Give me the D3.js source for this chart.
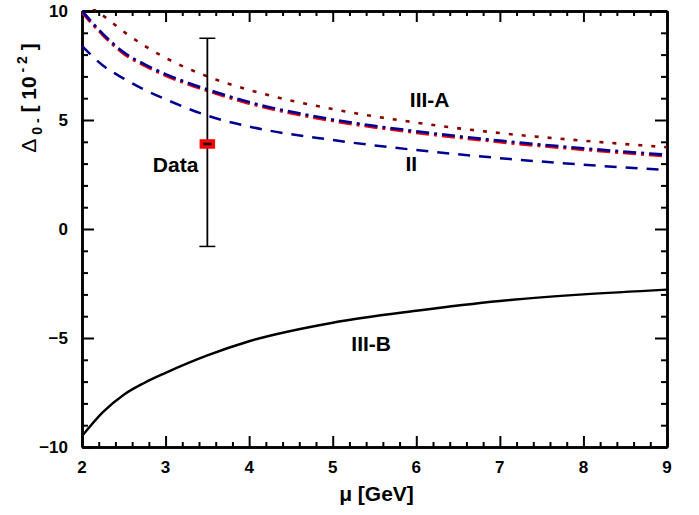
<!DOCTYPE html>
<html>
<head>
<meta charset="utf-8">
<script src="https://cdn.jsdelivr.net/npm/d3@7"></script>
<style>
html,body{margin:0;padding:0;background:#fff;}
svg text{font-family:"Liberation Sans",Arial,Helvetica,sans-serif;font-weight:bold;fill:#000;}
</style>
</head>
<body>
<svg id="chart" width="699" height="515"></svg>
<script>
// ---- data ----
const mu = [2, 2.25, 2.5, 2.75, 3, 3.5, 4, 5, 6, 7, 8, 9];
const seriesIIIA_dotted = [10.5, 9.8, 9.05, 8.4, 7.85, 7.0, 6.38, 5.5, 4.88, 4.4, 4.05, 3.75];
const seriesBlueDashDot = [10.0, 8.95, 8.1, 7.55, 7.1, 6.4, 5.82, 5.02, 4.48, 4.05, 3.7, 3.4];
const seriesRedDashDot  = [9.95, 8.89, 8.04, 7.49, 7.04, 6.34, 5.76, 4.96, 4.42, 3.99, 3.64, 3.34];
const seriesII_dashed   = [8.4, 7.5, 6.9, 6.38, 5.95, 5.2, 4.7, 4.08, 3.62, 3.25, 2.95, 2.7];
const seriesIIIB_solid  = [-9.5, -8.4, -7.6, -7.05, -6.6, -5.8, -5.15, -4.3, -3.75, -3.3, -3.0, -2.78];
const dataX = [3.5];
const dataY = [3.9];
const dataLow = [-0.8];
const dataHigh = [8.75];
const xTicks = [2, 3, 4, 5, 6, 7, 8, 9];
const yTicks = [-10, -5, 0, 5, 10];
const labels = [
  {text: "III-A", x: 6.16, y: 5.6},
  {text: "II",    x: 5.94, y: 2.66},
  {text: "III-B", x: 5.46, y: -5.6},
  {text: "Data",  x: 3.12, y: 2.61}
];

// ---- layout ----
const svg = d3.select("#chart");
const L = 82, R = 667, T = 11, B = 447;
const x = d3.scaleLinear().domain([2, 9]).range([L, R]);
const y = d3.scaleLinear().domain([-10, 10]).range([B, T]);

// ---- axes first (ticks inside on all four sides) ----
const xMinor = d3.range(2, 9.0001, 0.2).map(v => +v.toFixed(2)).filter(v => !xTicks.includes(v));
const yMinor = d3.range(-10, 10.0001, 1).filter(v => !yTicks.includes(v));
function styleAxis(sel, w) {
  sel.selectAll("path.domain").style("stroke", "black").style("stroke-width", "2.5px");
  sel.selectAll(".tick line").style("stroke", "black").style("stroke-width", w + "px");
  sel.selectAll(".tick text").remove();
}
const axes = svg.append("g").attr("class", "frame-axes");
axes.append("g").attr("transform", `translate(0,${B})`)
  .call(d3.axisBottom(x).tickValues(xTicks).tickSizeInner(-11).tickSizeOuter(0)).call(styleAxis, 2);
axes.append("g").attr("transform", `translate(0,${B})`)
  .call(d3.axisBottom(x).tickValues(xMinor).tickSizeInner(-5).tickSizeOuter(0)).call(styleAxis, 2);
axes.append("g").attr("transform", `translate(0,${T})`)
  .call(d3.axisTop(x).tickValues(xTicks).tickSizeInner(-11).tickSizeOuter(0)).call(styleAxis, 2);
axes.append("g").attr("transform", `translate(0,${T})`)
  .call(d3.axisTop(x).tickValues(xMinor).tickSizeInner(-5).tickSizeOuter(0)).call(styleAxis, 2);
axes.append("g").attr("transform", `translate(${L},0)`)
  .call(d3.axisLeft(y).tickValues(yTicks).tickSizeInner(-12).tickSizeOuter(0)).call(styleAxis, 2);
axes.append("g").attr("transform", `translate(${L},0)`)
  .call(d3.axisLeft(y).tickValues(yMinor).tickSizeInner(-6).tickSizeOuter(0)).call(styleAxis, 2);
axes.append("g").attr("transform", `translate(${R},0)`)
  .call(d3.axisRight(y).tickValues(yTicks).tickSizeInner(-12).tickSizeOuter(0)).call(styleAxis, 2);
axes.append("g").attr("transform", `translate(${R},0)`)
  .call(d3.axisRight(y).tickValues(yMinor).tickSizeInner(-6).tickSizeOuter(0)).call(styleAxis, 2);

// ---- curves ----
svg.append("defs").append("clipPath").attr("id", "plotclip")
  .append("rect").attr("x", L).attr("y", T - 2).attr("width", R - L).attr("height", B - T + 4);
const line = (vals) => d3.line()
  .x((d, i) => x(mu[i]))
  .y(d => y(d))
  .curve(d3.curveMonotoneX)(vals);
const g = svg.append("g").attr("clip-path", "url(#plotclip)");
g.append("path").attr("d", line(seriesIIIA_dotted)).attr("fill", "none")
  .attr("stroke", "#8b0000").attr("stroke-width", 2.6).attr("stroke-dasharray", "4,9");
g.append("path").attr("d", line(seriesRedDashDot)).attr("fill", "none")
  .attr("stroke", "#ff0000").attr("stroke-width", 3).attr("stroke-dasharray", "13,5,3,5");
g.append("path").attr("d", line(seriesBlueDashDot)).attr("fill", "none")
  .attr("stroke", "#000090").attr("stroke-width", 2.8).attr("stroke-dasharray", "13,5,3,5");
g.append("path").attr("d", line(seriesII_dashed)).attr("fill", "none")
  .attr("stroke", "#000090").attr("stroke-width", 2.5).attr("stroke-dasharray", "12,9");
g.append("path").attr("d", line(seriesIIIB_solid)).attr("fill", "none")
  .attr("stroke", "#000").attr("stroke-width", 2.4);

// ---- data point with error bar ----
dataX.forEach((dx, i) => {
  const px = x(dx);
  svg.append("line").attr("x1", px).attr("x2", px)
    .attr("y1", y(dataLow[i])).attr("y2", y(dataHigh[i]))
    .attr("stroke", "#000").attr("stroke-width", 1.8);
  [dataLow[i], dataHigh[i]].forEach(v => {
    svg.append("line").attr("x1", px - 8).attr("x2", px + 8)
      .attr("y1", y(v)).attr("y2", y(v))
      .attr("stroke", "#000").attr("stroke-width", 1.5);
  });
  svg.append("rect").attr("x", px - 6).attr("y", y(dataY[i]) - 3)
    .attr("width", 12).attr("height", 6)
    .attr("fill", "#000").attr("stroke", "#ff0000").attr("stroke-width", 3.5);
});

// ---- tick labels ----
svg.append("g").selectAll("text").data(xTicks).join("text")
  .attr("x", d => x(d)).attr("y", 473).attr("text-anchor", "middle")
  .style("font-size", "17px").text(d => d3.format("d")(d));
svg.append("g").selectAll("text").data(yTicks).join("text")
  .attr("x", 68).attr("y", d => y(d) + 6).attr("text-anchor", "end")
  .style("font-size", "17px").text(d => d3.format("d")(d));

// ---- curve labels ----
labels.forEach(l => {
  svg.append("text").attr("x", x(l.x)).attr("y", y(l.y))
    .attr("text-anchor", "middle").style("font-size", "21px").text(l.text);
});

// ---- axis titles ----
svg.append("text").attr("x", (L + R) / 2 + 2).attr("y", 501)
  .attr("text-anchor", "middle").style("font-size", "21px")
  .text("μ [GeV]");

const yt = svg.append("text")
  .attr("transform", "translate(36,98) rotate(-90)")
  .attr("text-anchor", "middle").style("font-size", "21px");
yt.append("tspan").style("font-weight", "normal").text("Δ");
yt.append("tspan").attr("dy", 6).style("font-size", "14px").text(" 0 -");
yt.append("tspan").attr("dy", -6).text("  [ 10");
yt.append("tspan").attr("dy", -9).style("font-size", "14px").text(" - 2");
yt.append("tspan").attr("dy", 9).text(" ]");
</script>
</body>
</html>
